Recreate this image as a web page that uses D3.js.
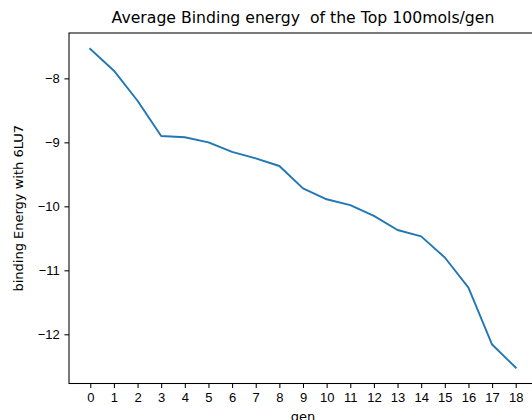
<!DOCTYPE html>
<html>
<head>
<meta charset="utf-8">
<script src="https://cdn.jsdelivr.net/npm/d3@7"></script>
<style>
  body { margin: 0; background: #fff; }
  svg { display: block; font-family: "DejaVu Sans", sans-serif; }
  .axis path, .axis line { stroke: #000; stroke-width: 1.05; }
  .axis text { fill: #000; font-size: 13px; }
  .line { fill: none; stroke: #1f77b4; stroke-width: 1.9; stroke-linejoin: round; stroke-linecap: square; }
</style>
</head>
<body>
<div id="graph-container"></div>
<script>

///// Data

var gens = [0, 1, 2, 3, 4, 5, 6, 7, 8, 9, 10, 11, 12, 13, 14, 15, 16, 17, 18];
var energies = [-7.54, -7.88, -8.35, -8.90, -8.92, -9.00, -9.15, -9.25, -9.37, -9.72,
                -9.89, -9.98, -10.15, -10.37, -10.47, -10.80, -11.27, -12.16, -12.52];
var yTicks = [-8, -9, -10, -11, -12];

var titleText = "Average Binding energy  of the Top 100mols/gen";
var xLabel = "gen";
var yLabel = "binding Energy with 6LU7";

///// Layout

var W = 532, H = 420;
var margin = {top: 33, left: 69},
    width = 468,
    height = 350.5;

var svg = d3.select("#graph-container")
    .append("svg")
        .attr("width", W)
        .attr("height", H);

var g = svg.append("g")
    .attr("transform", "translate(" + margin.left + "," + margin.top + ")");

// matplotlib style 5% margins
var xPad = (d3.max(gens) - d3.min(gens)) * 0.05;
var yMin = d3.min(energies), yMax = d3.max(energies);
var yPad = (yMax - yMin) * 0.05;

var x = d3.scaleLinear()
    .domain([d3.min(gens) - xPad, d3.max(gens) + xPad])
    .range([0, width]);
var y = d3.scaleLinear()
    .domain([yMin - yPad, yMax + yPad])
    .range([height, 0]);

var valueline = d3.line()
    .x(function(d, i) { return x(gens[i]); })
    .y(function(d) { return y(d); });

// frame (spines)
g.append("rect")
    .attr("width", width)
    .attr("height", height)
    .attr("fill", "none")
    .attr("stroke", "#000")
    .attr("stroke-width", 1.05);

// Add the line
g.append("path")
    .datum(energies)
    .attr("class", "line")
    .attr("d", valueline);

// X axis
g.append("g")
    .attr("class", "axis")
    .attr("transform", "translate(0," + height + ")")
    .call(d3.axisBottom(x).tickValues(gens).tickFormat(d3.format("d"))
        .tickSizeInner(4.6).tickSizeOuter(0).tickPadding(4.6));

// Y axis
g.append("g")
    .attr("class", "axis")
    .call(d3.axisLeft(y).tickValues(yTicks).tickFormat(d3.format("d"))
        .tickSizeInner(4.6).tickSizeOuter(0).tickPadding(4.6));

g.selectAll(".axis .domain").remove();

// Title and labels
svg.append("text")
    .attr("x", margin.left + width / 2)
    .attr("y", 23)
    .attr("text-anchor", "middle")
    .attr("font-size", "15.7px")
    .style("white-space", "pre")
    .text(titleText);

svg.append("text")
    .attr("x", margin.left + width / 2)
    .attr("y", 421)
    .attr("text-anchor", "middle")
    .attr("font-size", "13px")
    .text(xLabel);

svg.append("text")
    .attr("transform", "translate(23," + (margin.top + height / 2) + ") rotate(-90)")
    .attr("text-anchor", "middle")
    .attr("font-size", "13px")
    .text(yLabel);

</script>
</body>
</html>
